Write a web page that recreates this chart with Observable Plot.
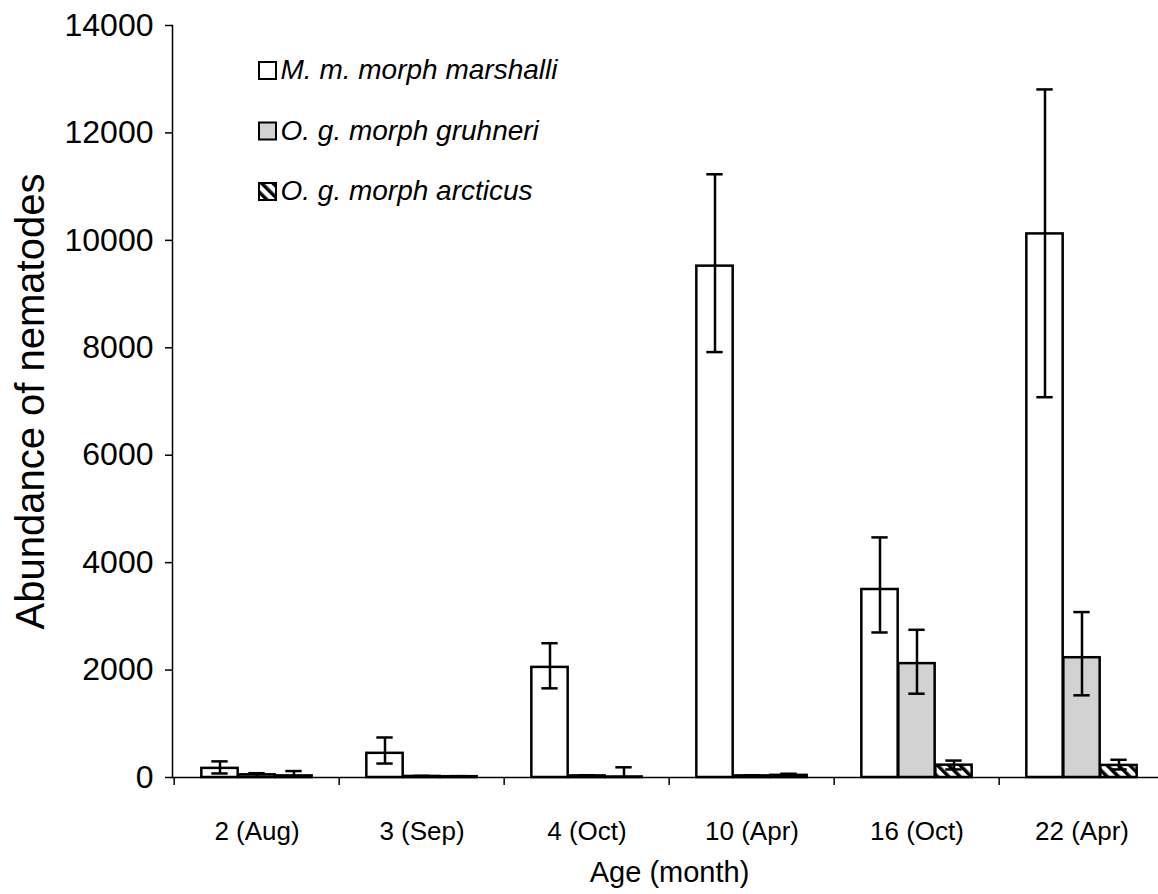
<!DOCTYPE html>
<html>
<head>
<meta charset="utf-8">
<script src="https://cdn.jsdelivr.net/npm/d3@7"></script>
<script src="https://cdn.jsdelivr.net/npm/@observablehq/plot@0.6"></script>
<style>
  html, body { margin: 0; padding: 0; background: white; }
  svg { font-family: "Liberation Sans", Arial, sans-serif; }
</style>
</head>
<body>
<div id="chart"></div>
<script>
const categories = ["2 (Aug)", "3 (Sep)", "4 (Oct)", "10 (Apr)", "16 (Oct)", "22 (Apr)"];
const series = ["M. m. morph marshalli", "O. g. morph gruhneri", "O. g. morph arcticus"];
const yTicks = [0, 2000, 4000, 6000, 8000, 10000, 12000, 14000];

const marshalli     = [170, 450, 2050, 9520, 3500, 10120];
const marshalliLow  = [75, 260, 1660, 7920, 2700, 7080];
const marshalliHigh = [300, 745, 2500, 11230, 4470, 12810];

const gruhneri     = [50, 20, 30, 30, 2120, 2230];
const gruhneriLow  = [0, 0, 0, 0, 1560, 1530];
const gruhneriHigh = [80, 30, 40, 40, 2750, 3080];

const arcticus     = [30, 15, 10, 40, 230, 225];
const arcticusLow  = [0, 0, 0, 0, 150, 150];
const arcticusHigh = [120, 25, 190, 70, 315, 330];

const values = [marshalli, gruhneri, arcticus];
const lows = [marshalliLow, gruhneriLow, arcticusLow];
const highs = [marshalliHigh, gruhneriHigh, arcticusHigh];

const rows = categories.flatMap((c, i) => series.map((s, j) => ({
  cat: c, series: s, j, value: values[j][i], low: lows[j][i], high: highs[j][i]
})));

const W = 1158, H = 894;
const mL = 172, mR = -8, mT = 25, mB = 117;
const bw = (W - mR - mL) / categories.length;
const barW = 37;
const pad = (bw - 3 * barW) / 2;
const capW = 17;
const fills = ["white", "#d2d2d2", "url(#hatch)"];

const marks = [];
series.forEach((s, j) => {
  const d = rows.filter(r => r.j === j);
  marks.push(Plot.barY(d, {
    x: "cat", y: "value", fill: fills[j], stroke: "black", strokeWidth: 2.5,
    insetLeft: pad + j * barW, insetRight: pad + (2 - j) * barW
  }));
});
series.forEach((s, j) => {
  const d = rows.filter(r => r.j === j);
  const off = (j - 1) * barW;
  const capL = pad + j * barW + (barW - capW) / 2;
  const capR = bw - capL - capW;
  marks.push(Plot.ruleX(d, {x: "cat", y1: d => Math.max(d.low, 0), y2: "high", dx: off, stroke: "black", strokeWidth: 2.5}));
  marks.push(Plot.tickY(d, {x: "cat", y: "high", insetLeft: capL, insetRight: capR, stroke: "black", strokeWidth: 2.5}));
  marks.push(Plot.tickY(d.filter(r => r.low > 0), {x: "cat", y: "low", insetLeft: capL, insetRight: capR, stroke: "black", strokeWidth: 2.5}));
});

// axes
marks.push(Plot.axisY({ticks: yTicks, tickFormat: d => String(d), tickSize: 7, tickPadding: 12, fontSize: 32, label: null, strokeWidth: 1.5}));
marks.push(Plot.axisX({tickSize: 8, text: null, dx: -bw / 2, label: null, strokeWidth: 1.5}));
marks.push(Plot.axisX({tickSize: 0, tickPadding: 44, fontSize: 26, label: null}));
marks.push(Plot.frame({anchor: "left", strokeWidth: 1.5}));
marks.push(Plot.frame({anchor: "bottom", strokeWidth: 1.5}));

// axis titles
marks.push(Plot.text(["Abundance of nematodes"], {frameAnchor: "left", dx: -141, rotate: -90, fontSize: 40, textAnchor: "middle", text: d => d}));
marks.push(Plot.text(["Age (month)"], {frameAnchor: "bottom", dy: 104, fontSize: 29, textAnchor: "middle", text: d => d}));

// legend
series.forEach((s, j) => {
  marks.push(Plot.dot([s], {frameAnchor: "top-left", dx: 95, dy: 45 + j * 60.5, symbol: "square", r: 9.6, fill: fills[j], stroke: "black", strokeWidth: 2}));
  marks.push(Plot.text([s], {frameAnchor: "top-left", dx: 108, dy: 45 + j * 60.5, text: d => d, fontSize: 28, fontStyle: "italic", textAnchor: "start", lineAnchor: "middle"}));
});

const chart = Plot.plot({
  width: W, height: H,
  marginLeft: mL, marginRight: mR, marginTop: mT, marginBottom: mB,
  x: {domain: categories, padding: 0, axis: null},
  y: {domain: [0, 14000], axis: null},
  style: {fontFamily: "'Liberation Sans', Arial, sans-serif", color: "black", background: "white"},
  marks
});

// hatch pattern
const ns = "http://www.w3.org/2000/svg";
const defs = document.createElementNS(ns, "defs");
defs.innerHTML = `<pattern id="hatch" patternUnits="userSpaceOnUse" width="8" height="8" patternTransform="rotate(-45)">
  <rect width="8" height="8" fill="white"></rect>
  <rect x="0" y="0" width="3.5" height="8" fill="black"></rect>
</pattern>`;
chart.insertBefore(defs, chart.firstChild);
document.getElementById("chart").appendChild(chart);
</script>
</body>
</html>
